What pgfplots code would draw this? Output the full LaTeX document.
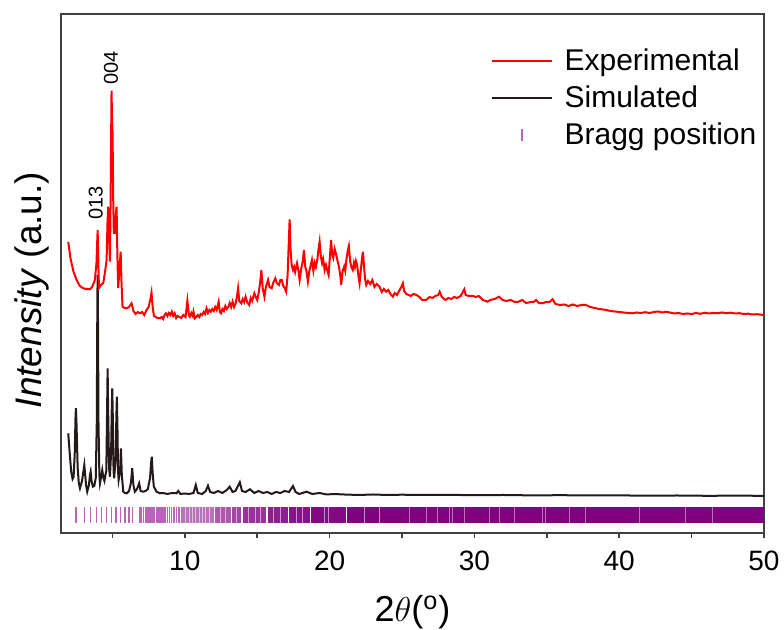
\documentclass[border=0pt]{standalone}
\usepackage{fontspec}
\setmainfont{Liberation Sans}
\usepackage{pgfplots}
\pgfplotsset{compat=1.18}
\definecolor{expred}{RGB}{255,0,0}
\definecolor{simblack}{RGB}{35,25,25}
\definecolor{braggdark}{RGB}{128,0,128}
\definecolor{bragglight}{RGB}{185,100,185}

\begin{document}
\begin{tikzpicture}
\begin{axis}[
  name=ax, scale only axis, width=351.5pt, height=259.5pt,
  xmin=1.45, xmax=50, ymin=0, ymax=519,
  axis line style={line width=0.8pt, black!75},
  xtick={10,20,30,40,50}, minor xtick={5,15,25,35,45},
  ytick=\empty,
  xtick pos=bottom, tick align=outside,
  major tick length=2.6pt, minor tick length=2.6pt,
  every tick/.style={line width=0.8pt, black!75},
  /pgf/number format/assume math mode=true,
  ticklabel style={font=\fontsize{14}{16}\selectfont},
  xticklabel style={yshift=-3pt},
  xlabel={2$\theta$(\textsuperscript{o})},
  ylabel={\textit{Intensity} (a.u.)},
  label style={font=\fontsize{18.5}{22}\selectfont},
  xlabel style={yshift=-5.5pt, font=\fontsize{18}{21}\selectfont},
  ylabel style={at={(ticklabel cs:0.468)}},
  legend style={at={(rel axis cs:1.004,0.95)}, anchor=north east, draw=none, fill=none,
    font=\fontsize{15}{18}\selectfont, row sep=2.2pt},
  legend cell align=left,
  legend image code/.code={\draw[#1] (0pt,0pt) -- (30pt,0pt); \path (34pt,0pt);},
]
\coordinate (sw) at (rel axis cs:0,0);
\coordinate (ne) at (rel axis cs:1,1);

% Bragg positions, dense part drawn as bands
\addplot[fill=braggdark!55, draw=none, forget plot] coordinates {(9.77,10) (12.02,10) (12.02,26) (9.77,26)};
\addplot[fill=braggdark!65, draw=none, forget plot] coordinates {(12.10,10) (13.18,10) (13.18,26) (12.10,26)};
\addplot[fill=braggdark!72, draw=none, forget plot] coordinates {(13.26,10) (13.91,10) (13.91,26) (13.26,26)};
\addplot[fill=braggdark!80, draw=none, forget plot] coordinates {(13.99,10) (15.64,10) (15.64,26) (13.99,26)};
\addplot[fill=braggdark!88, draw=none, forget plot] coordinates {(15.72,10) (17.13,10) (17.13,26) (15.72,26)};
\addplot[fill=braggdark!93, draw=none, forget plot] coordinates {(17.21,10) (18.63,10) (18.63,26) (17.21,26)};
\addplot[fill=braggdark!97, draw=none, forget plot] coordinates {(18.71,10) (21.11,10) (21.11,26) (18.71,26)};
\addplot[fill=braggdark, draw=none, forget plot] coordinates {(21.19,10) (50,10) (50,26) (21.19,26)};
% lighter stripes inside the bands
\addplot[only marks, mark=|, mark size=4pt, mark options={line width=0.45pt, draw=white, opacity=0.55}, forget plot] coordinates {
  (10.05,18) (10.3,18) (10.5,18) (10.75,18) (11.0,18) (11.2,18) (11.45,18) (11.7,18)
  (12.45,18) (12.8,18) (13.55,18) (14.4,18) (14.9,18) (15.2,18) (16.1,18) (16.6,18)
  (17.7,18) (18.1,18) (19.66,18) (19.9,18) (22.4,18) (23.45,18)
};
\addplot[only marks, mark=|, mark size=4pt, mark options={line width=0.45pt, draw=braggdark!55}, forget plot] coordinates {
  (25.5,18) (26.67,18) (27.47,18) (28.28,18) (28.5,18) (29.3,18) (31.03,18) (31.72,18)
  (32.76,18) (34.71,18) (34.94,18) (36.55,18) (37.7,18) (41.38,18) (44.6,18) (46.43,18)
};

% simulated pattern
\addplot[simblack, line width=1pt, forget plot] coordinates {
  (1.95,99.7) (2.05,80) (2.15,62) (2.25,54) (2.32,56) (2.4,80) (2.45,115) (2.48,124.7)
  (2.52,110) (2.6,65) (2.68,50) (2.76,44.7) (2.9,52) (2.98,60) (3.06,68) (3.12,58)
  (3.18,48) (3.26,41.3) (3.38,48) (3.45,58) (3.5,61.3) (3.56,52) (3.65,46.3) (3.75,47)
  (3.85,55) (3.92,110) (3.96,230) (3.98,258) (4.0,230) (4.04,110) (4.1,58) (4.14,49.7)
  (4.22,56) (4.3,63) (4.38,55) (4.45,52) (4.52,58) (4.58,62) (4.63,120) (4.67,164.7)
  (4.71,120) (4.77,65) (4.83,56.3) (4.91,80) (4.95,120) (4.99,144.7) (5.03,115)
  (5.08,62) (5.12,54.7) (5.23,75) (5.27,115) (5.31,136.3) (5.35,105) (5.39,62) (5.43,53)
  (5.53,62) (5.59,84.7) (5.65,58) (5.75,41.3) (5.88,40) (6.0,39.7) (6.15,42) (6.28,50)
  (6.37,64.7) (6.45,48) (6.55,41.3) (6.7,44) (6.85,49.7) (6.95,42) (7.13,41.3) (7.3,42)
  (7.45,44) (7.6,55) (7.67,70) (7.72,76.3) (7.78,60) (7.86,46.3) (8.05,41.3) (8.28,39.7)
  (8.5,40) (8.8,39) (9.1,40) (9.43,39.7) (9.55,42) (9.7,39) (10.0,39.5) (10.3,39)
  (10.6,40) (10.76,48) (10.9,40) (11.2,39) (11.45,42) (11.6,47.3) (11.75,41) (12.0,40)
  (12.3,42) (12.6,40) (12.9,43) (13.1,46.3) (13.3,41) (13.5,42) (13.8,50.7) (13.95,42)
  (14.2,41) (14.5,43.7) (14.8,40) (15.1,42) (15.4,40) (15.7,41) (16.0,39) (16.3,41)
  (16.6,40) (16.9,42) (17.2,41) (17.47,47) (17.65,41) (17.9,39) (18.4,41.3) (18.8,39)
  (19.3,40) (19.8,38.5) (20.3,39) (21,38.5) (22,38) (23,38.5) (24,38) (25,38.3)
  (26,38) (28,38.2) (30,37.8) (32,38) (34,37.6) (36,37.8) (38,37.5) (40,37.6)
  (42,37.3) (44,37.5) (46,37.2) (48,37.3) (50,37.2)
};

% experimental pattern
\addplot[expred, line width=1pt] coordinates {
  (1.95,291.3) (2.1,275) (2.3,262) (2.53,253) (2.75,247) (2.99,244.7) (3.2,244)
  (3.45,243.7) (3.6,246) (3.79,253) (3.9,270) (3.98,303) (4.03,270) (4.07,245)
  (4.2,248) (4.37,250) (4.5,262) (4.6,273) (4.66,310) (4.71,326.3) (4.76,300)
  (4.83,271.3) (4.88,340) (4.94,442.3) (4.98,410) (5.01,401) (5.06,330) (5.1,300)
  (5.18,300) (5.24,320) (5.29,326.3) (5.34,280) (5.4,245) (5.48,262) (5.57,281.3)
  (5.63,250) (5.7,226.3) (5.85,225) (5.98,224.7) (6.15,226) (6.32,229.7) (6.45,222)
  (6.6,219) (6.75,221) (6.9,219.7) (7.05,221) (7.2,218) (7.36,223) (7.5,226) (7.6,232)
  (7.7,240.3) (7.78,226) (7.87,217) (7.95,216.3) (8.1,215) (8.28,214.7) (8.4,216)
  (8.5,214) (8.6,218) (8.7,219.7) (8.8,217) (8.9,220) (9.0,218) (9.1,221.3) (9.2,217)
  (9.3,219.7) (9.4,215) (9.5,217) (9.6,216.3) (9.75,215) (9.9,218) (10.05,216)
  (10.18,232.3) (10.28,218) (10.35,216.3) (10.45,220) (10.55,217) (10.6,221.3)
  (10.7,214.7) (10.8,216) (10.9,218) (11.0,216) (11.1,219) (11.2,218) (11.3,221)
  (11.4,219) (11.5,224.7) (11.6,220) (11.7,223) (11.8,221.3) (11.9,224) (12.0,222)
  (12.1,226) (12.2,223) (12.34,231.3) (12.42,221) (12.5,219.7) (12.6,224) (12.7,222)
  (12.8,227) (12.9,224) (13.0,226) (13.1,230) (13.2,226) (13.3,231.3) (13.4,226)
  (13.5,229) (13.6,236) (13.68,244.7) (13.76,232) (13.9,229.7) (14.0,234) (14.1,231)
  (14.2,236.3) (14.3,231) (14.45,228) (14.55,235) (14.65,232) (14.8,239.7) (14.9,236)
  (15.0,233) (15.1,240) (15.2,250) (15.29,263) (15.38,245) (15.5,236.3) (15.6,246)
  (15.75,253) (15.85,246) (16.0,244.7) (16.1,250) (16.25,254.7) (16.35,250) (16.5,248)
  (16.6,253) (16.7,253) (16.8,247) (16.9,245) (17.0,241.3) (17.1,258) (17.18,290)
  (17.24,313.7) (17.3,285) (17.38,268) (17.47,263) (17.55,266) (17.62,261) (17.75,269.7)
  (17.85,262) (17.93,253) (18.05,265) (18.15,272) (18.23,283) (18.32,266) (18.4,262)
  (18.5,251.3) (18.6,262) (18.7,268) (18.78,273) (18.88,262) (18.97,270) (19.05,266)
  (19.15,273) (19.22,282) (19.31,291.3) (19.4,276) (19.48,270) (19.55,274) (19.66,263)
  (19.75,268) (19.85,262) (19.93,258) (20.02,276) (20.1,293) (20.18,278) (20.25,275)
  (20.35,284) (20.46,278) (20.55,272) (20.65,266) (20.75,256) (20.8,248) (20.9,262)
  (21.0,266.3) (21.08,262) (21.15,272) (21.25,282) (21.33,287) (21.42,272) (21.5,266)
  (21.6,263) (21.68,270) (21.75,266) (21.82,272) (21.9,268) (22.0,256) (22.07,249.7)
  (22.15,262) (22.22,272) (22.3,281.3) (22.38,266) (22.45,254) (22.53,248) (22.65,252)
  (22.8,249) (22.95,253) (23.1,246) (23.25,249) (23.45,246.3) (23.6,241) (23.75,244)
  (23.9,241.3) (24.05,243) (24.2,239) (24.37,236.3) (24.5,240) (24.65,238) (24.8,242)
  (24.95,246) (25.06,249.7) (25.15,242) (25.3,239) (25.45,238) (25.6,237) (25.8,239)
  (26.0,238) (26.2,236) (26.4,233) (26.67,233) (26.9,236) (27.1,235) (27.3,237)
  (27.5,238) (27.6,241.3) (27.75,236) (28.0,233) (28.2,235) (28.4,234) (28.6,236)
  (28.8,235) (29.05,237) (29.2,241) (29.3,243.7) (29.4,238) (29.6,237) (29.9,237)
  (30.1,236) (30.3,237) (30.6,233) (30.9,231.3) (31.1,233) (31.4,234) (31.7,236.3)
  (31.95,233) (32.2,232) (32.5,233) (32.8,231) (33.0,231) (33.3,233) (33.57,230)
  (33.9,231) (34.1,231) (34.26,233) (34.45,230) (34.7,229.7) (34.95,231) (35.2,231)
  (35.4,233.7) (35.6,229) (35.9,228) (36.2,228.5) (36.5,227) (36.8,228.5) (37.1,227)
  (37.4,228) (37.7,228) (38.0,226) (38.3,225) (38.6,224) (38.9,223.5) (39.1,223)
  (39.4,222) (39.7,221.5) (40.0,221) (40.3,220.5) (40.6,220) (40.9,219.7) (41.2,220.5)
  (41.5,220) (41.8,220.8) (42.1,220) (42.4,221) (42.7,221.5) (43.0,220.5) (43.2,221.3)
  (43.5,220.5) (43.8,219.5) (44.1,220) (44.4,219) (44.7,219.5) (45.0,219) (45.3,220)
  (45.6,219.2) (45.9,220.3) (46.2,219.5) (46.5,220) (46.8,219.8) (47.1,220.5)
  (47.4,219.8) (47.7,220.3) (48.0,219.5) (48.3,219.8) (48.6,219) (48.9,219.3)
  (49.2,218.5) (49.5,218.8) (50,218)
};
\addlegendentry{Experimental}

% legend line for the simulated pattern
\addlegendimage{simblack, line width=1pt}
\addlegendentry{Simulated}

% Bragg positions, sparse part
\addplot[only marks, mark=|, mark size=4pt, color=bragglight, mark options={line width=0.65pt},
  legend image code/.code={\draw[bragglight, line width=1pt] (15pt,-3pt) -- (15pt,3pt); \path (34pt,0pt);}] coordinates {
  (2.48,18) (3.06,18) (3.5,18) (3.91,18) (4.26,18) (4.6,18) (4.94,18) (5.24,18)
  (5.57,18) (5.86,18) (6.14,18) (6.39,18) (6.85,18) (6.98,18) (7.14,18) (7.31,18)
  (7.45,18) (7.6,18) (7.74,18) (7.88,18) (8.07,18) (8.21,18) (8.35,18) (8.49,18)
  (8.64,18) (8.8,18) (8.94,18) (9.1,18) (9.26,18) (9.43,18) (9.6,18)
};
\addlegendentry{Bragg position}

\node[rotate=90, anchor=west, inner sep=0pt, font=\fontsize{10}{12}\selectfont] at (axis cs:3.85,313) {013};
\node[rotate=90, anchor=west, inner sep=0pt, font=\fontsize{10}{12}\selectfont] at (axis cs:4.9,448) {004};
\end{axis}
\pgfresetboundingbox
\path[use as bounding box] ([shift={(-30.5pt,-48.5pt)}]sw) rectangle ([shift={(10pt,7pt)}]ne);
\end{tikzpicture}
\end{document}
